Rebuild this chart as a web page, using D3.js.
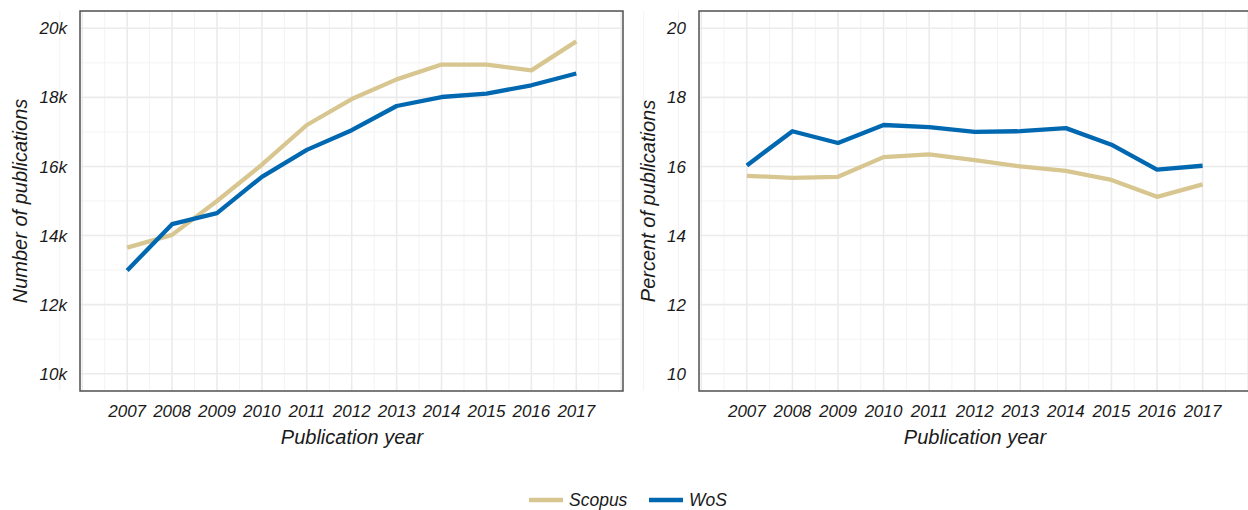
<!DOCTYPE html>
<html><head><meta charset="utf-8">
<script src="https://cdn.jsdelivr.net/npm/d3@7"></script>
<style>
html,body{margin:0;padding:0;background:#fff;}
svg{display:block;font-family:"Liberation Sans",Arial,sans-serif;}
</style></head>
<body><svg id="c" width="1248" height="510"></svg>
<script>
const years = [2007,2008,2009,2010,2011,2012,2013,2014,2015,2016,2017];
const scopusCount = [13650,14020,15000,16050,17200,17950,18520,18950,18950,18780,19620];
const wosCount    = [12990,14330,14650,15700,16480,17050,17750,18010,18110,18350,18690];
const scopusPct = [15.73,15.67,15.70,16.27,16.35,16.18,16.00,15.87,15.61,15.12,15.48];
const wosPct    = [16.03,17.02,16.68,17.20,17.14,17.00,17.02,17.11,16.63,15.91,16.02];
const seriesNames = ["Scopus","WoS"];
const seriesColors = ["#D8C690","#0068B1"];
const countTicks = [10000,12000,14000,16000,18000,20000];
const pctTicks = [10,12,14,16,18,20];

const svg = d3.select("#c");

function panel(opts){
  const {x0,x1,y0,y1,yDomain,ticks,fmt,ytitle,data,tickRight,xtitleX,ytitleX} = opts;
  const g = svg.append("g");
  const x = d3.scaleLinear().domain([2005.95,2018.04]).range([x0,x1]);
  const y = d3.scaleLinear().domain(yDomain).range([y1,y0]);
  const minorX = d3.range(2005.5,2018.6,1);
  const minorY = ticks.slice(0,-1).map((t,i)=>(t+ticks[i+1])/2);
  g.append("g").selectAll("line").data(minorX).join("line")
    .attr("x1",d=>x(d)).attr("x2",d=>x(d)).attr("y1",y0).attr("y2",y1)
    .attr("stroke","#f3f3f3").attr("stroke-width",1);
  g.append("g").selectAll("line").data(minorY).join("line")
    .attr("x1",x0).attr("x2",x1).attr("y1",d=>y(d)).attr("y2",d=>y(d))
    .attr("stroke","#f3f3f3").attr("stroke-width",1);
  g.append("g").selectAll("line").data(d3.range(2006,2019)).join("line")
    .attr("x1",d=>x(d)).attr("x2",d=>x(d)).attr("y1",y0).attr("y2",y1)
    .attr("stroke","#ebebeb").attr("stroke-width",1.6);
  g.append("g").selectAll("line").data(ticks).join("line")
    .attr("x1",x0).attr("x2",x1).attr("y1",d=>y(d)).attr("y2",d=>y(d))
    .attr("stroke","#ebebeb").attr("stroke-width",1.6);
  const line = d3.line().x((d,i)=>x(years[i])).y(d=>y(d));
  data.forEach((vals,k)=>{
    g.append("path").datum(vals).attr("d",line).attr("fill","none")
      .attr("stroke",seriesColors[k]).attr("stroke-width",4.3)
      .attr("stroke-linejoin","round").attr("stroke-linecap","butt");
  });
  g.append("rect").attr("x",x0).attr("y",y0).attr("width",x1-x0).attr("height",y1-y0)
    .attr("fill","none").attr("stroke","#505050").attr("stroke-width",1.5);
  g.append("g").selectAll("text").data(ticks).join("text")
    .attr("x",tickRight).attr("y",d=>y(d)).attr("dy","0.36em")
    .attr("text-anchor","end").attr("font-size",17).attr("font-style","italic")
    .attr("fill","#1a1a1a").text(fmt);
  g.append("g").selectAll("text").data(years).join("text")
    .attr("x",d=>x(d)).attr("y",417).attr("text-anchor","middle")
    .attr("font-size",17).attr("font-style","italic").attr("fill","#1a1a1a").text(d=>d);
  g.append("text").attr("x",xtitleX).attr("y",444).attr("text-anchor","middle")
    .attr("font-size",20).attr("font-style","italic").attr("fill","#1a1a1a").text("Publication year");
  g.append("text").attr("transform",`translate(${ytitleX},${(y0+y1)/2}) rotate(-90)`)
    .attr("text-anchor","middle").attr("font-size",20).attr("font-style","italic")
    .attr("fill","#1a1a1a").text(ytitle);
}

panel({x0:80,x1:623,y0:11,y1:391,yDomain:[9500,20500],ticks:countTicks,
  fmt:d=>(d/1000)+"k",ytitle:"Number of publications",data:[scopusCount,wosCount],
  tickRight:67,xtitleX:352,ytitleX:27});
panel({x0:699,x1:1250,y0:11,y1:391,yDomain:[9.5,20.5],ticks:pctTicks,
  fmt:d=>d,ytitle:"Percent of publications",data:[scopusPct,wosPct],
  tickRight:686,xtitleX:975,ytitleX:655});

const leg = svg.append("g");
const legX = [529,649];
seriesNames.forEach((n,i)=>{
  leg.append("line").attr("x1",legX[i]).attr("x2",legX[i]+34).attr("y1",500).attr("y2",500)
    .attr("stroke",seriesColors[i]).attr("stroke-width",4.3);
  leg.append("text").attr("x",legX[i]+40).attr("y",500).attr("dy","0.36em")
    .attr("font-size",17.5).attr("font-style","italic").attr("fill","#1a1a1a").text(n);
});
</script>
</body></html>
